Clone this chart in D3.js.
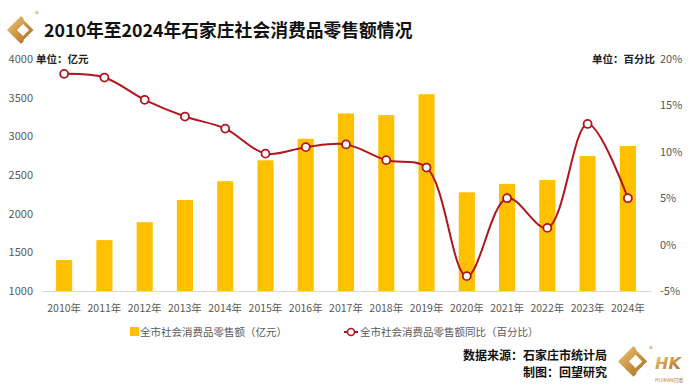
<!DOCTYPE html>
<html>
<head>
<meta charset="utf-8">
<script src="https://cdn.jsdelivr.net/npm/d3@7"></script>
<style>
  body { margin: 0; background: #fff; }
  svg { font-family: "Noto Sans CJK SC", "Noto Sans", sans-serif; }
</style>
</head>
<body>
<div id="chart"></div>
<script>
// data
var years = ["2010年", "2011年", "2012年", "2013年", "2014年", "2015年", "2016年", "2017年",
             "2018年", "2019年", "2020年", "2021年", "2022年", "2023年", "2024年"];
var sales = [1400, 1658, 1890, 2177, 2420, 2690, 2968, 3296, 3275, 3545, 2276, 2385, 2434, 2745, 2875];
var growth = [18.4, 18.0, 15.6, 13.8, 12.5, 9.8, 10.5, 10.8, 9.1, 8.3, -3.4, 5.0, 1.8, 13.0, 5.0];
var leftTicks = [1000, 1500, 2000, 2500, 3000, 3500, 4000];
var rightTicks = [-5, 0, 5, 10, 15, 20];

var svgWidth = 690;
var svgHeight = 389;
var barColor = "#ffc000";
var lineColor = "#b0161e";
var tickColor = "#595959";

var svg = d3.select("#chart")
    .append("svg")
    .attr("width", svgWidth)
    .attr("height", svgHeight);

var defs = svg.append("defs");
var gold = defs.append("linearGradient")
    .attr("id", "gold")
    .attr("x1", "0").attr("y1", "0").attr("x2", "1").attr("y2", "1");
gold.append("stop").attr("offset", "0%").attr("stop-color", "#ecc97f");
gold.append("stop").attr("offset", "55%").attr("stop-color", "#c8913e");
gold.append("stop").attr("offset", "100%").attr("stop-color", "#9c6a24");

// scales
var x = d3.scaleBand()
    .domain(years)
    .range([44, 648])
    .paddingInner(0.6)
    .paddingOuter(0.3);

var yLeft = d3.scaleLinear().domain([1000, 4000]).range([291, 59]);
var yRight = d3.scaleLinear().domain([-5, 20]).range([291, 59]);

// logo helper: gold diamond with a chevron cut
function drawLogo(g, s) {
    var lg = g.append("g").attr("transform", "scale(" + s + ")");
    lg.append("path")
        .attr("d", "M0,14 L14,0 L28,14 L14,28 Z")
        .attr("fill", "url(#gold)");
    lg.append("path")
        .attr("d", "M10,14 L16,8 L22,14 L16,20 Z")
        .attr("fill", "#fff");
    lg.append("path")
        .attr("d", "M17,3 L28,14 L17,25")
        .attr("fill", "none")
        .attr("stroke", "#fff")
        .attr("stroke-width", 2);
}

// title + logo
var logoTop = svg.append("g").attr("transform", "translate(7,16)");
drawLogo(logoTop, 1.0);
svg.append("text")
    .attr("x", 35).attr("y", 17)
    .attr("font-size", 8)
    .attr("fill", "#c8913e")
    .text("®");

svg.append("text")
    .attr("x", 44).attr("y", 37)
    .attr("font-size", 17.8)
    .attr("font-weight", "bold")
    .attr("fill", "#111")
    .text("2010年至2024年石家庄社会消费品零售额情况");

// baseline
svg.append("line")
    .attr("x1", 43).attr("x2", 652)
    .attr("y1", 291.5).attr("y2", 291.5)
    .attr("stroke", "#d9d9d9")
    .attr("stroke-width", 1);

// left axis labels
var leftAxis = svg.append("g")
    .attr("transform", "translate(33,0)")
    .call(d3.axisLeft(yLeft).tickValues(leftTicks).tickSize(0).tickPadding(0)
        .tickFormat(d3.format("d")));
leftAxis.select(".domain").remove();
leftAxis.selectAll("text")
    .attr("font-size", 11)
    .attr("fill", tickColor)
    .attr("font-family", "'Noto Sans CJK SC', sans-serif");

// right axis labels
var rightAxis = svg.append("g")
    .attr("transform", "translate(660,0)")
    .call(d3.axisRight(yRight).tickValues(rightTicks).tickSize(0).tickPadding(0)
        .tickFormat(d => d + "%"));
rightAxis.select(".domain").remove();
rightAxis.selectAll("text")
    .attr("font-size", 11)
    .attr("fill", tickColor)
    .attr("font-family", "'Noto Sans CJK SC', sans-serif");

// bottom axis labels
var bottomAxis = svg.append("g")
    .attr("transform", "translate(0,291)")
    .call(d3.axisBottom(x).tickSize(0).tickPadding(14));
bottomAxis.select(".domain").remove();
bottomAxis.selectAll("text")
    .attr("font-size", 10.5)
    .attr("fill", tickColor)
    .attr("font-family", "'Noto Sans CJK SC', sans-serif");

// unit labels
svg.append("text")
    .attr("x", 36).attr("y", 63)
    .attr("font-size", 10.5)
    .attr("font-weight", "bold")
    .attr("fill", "#222")
    .text("单位：亿元");
svg.append("text")
    .attr("x", 655).attr("y", 63)
    .attr("text-anchor", "end")
    .attr("font-size", 10.5)
    .attr("font-weight", "bold")
    .attr("fill", "#222")
    .text("单位：百分比");

// bars
svg.selectAll("rect.bar")
    .data(sales)
    .enter()
    .append("rect")
    .attr("class", "bar")
    .attr("x", (d, i) => x(years[i]))
    .attr("width", x.bandwidth())
    .attr("y", d => yLeft(d))
    .attr("height", d => yLeft(1000) - yLeft(d))
    .attr("fill", barColor);

// growth line
var line = d3.line()
    .x((d, i) => x(years[i]) + x.bandwidth() / 2)
    .y(d => yRight(d))
    .curve(d3.curveCatmullRom.alpha(0.5));

svg.append("path")
    .datum(growth)
    .attr("d", line)
    .attr("fill", "none")
    .attr("stroke", lineColor)
    .attr("stroke-width", 2);

svg.selectAll("circle.pt")
    .data(growth)
    .enter()
    .append("circle")
    .attr("class", "pt")
    .attr("cx", (d, i) => x(years[i]) + x.bandwidth() / 2)
    .attr("cy", d => yRight(d))
    .attr("r", 4)
    .attr("fill", "#fff")
    .attr("stroke", lineColor)
    .attr("stroke-width", 1.8);

// legend
var legend = svg.append("g");
legend.append("rect")
    .attr("x", 130).attr("y", 327)
    .attr("width", 9).attr("height", 9)
    .attr("fill", barColor);
legend.append("text")
    .attr("x", 140).attr("y", 336)
    .attr("font-size", 10.5)
    .attr("fill", tickColor)
    .text("全市社会消费品零售额（亿元）");
legend.append("line")
    .attr("x1", 344).attr("x2", 358)
    .attr("y1", 332).attr("y2", 332)
    .attr("stroke", lineColor)
    .attr("stroke-width", 2);
legend.append("circle")
    .attr("cx", 351).attr("cy", 332).attr("r", 3.5)
    .attr("fill", "#fff")
    .attr("stroke", lineColor)
    .attr("stroke-width", 1.6);
legend.append("text")
    .attr("x", 360).attr("y", 336)
    .attr("font-size", 10.5)
    .attr("fill", tickColor)
    .text("全市社会消费品零售额同比（百分比）");

// source
svg.append("text")
    .attr("x", 607).attr("y", 360)
    .attr("text-anchor", "end")
    .attr("font-size", 12)
    .attr("font-weight", "bold")
    .attr("fill", "#111")
    .text("数据来源：石家庄市统计局");
svg.append("text")
    .attr("x", 607).attr("y", 377)
    .attr("text-anchor", "end")
    .attr("font-size", 12)
    .attr("font-weight", "bold")
    .attr("fill", "#111")
    .text("制图：回望研究");

// bottom right logo
var logoBottom = svg.append("g").attr("transform", "translate(618,346)");
drawLogo(logoBottom, 1.1);
svg.append("text")
    .attr("x", 649).attr("y", 352)
    .attr("font-size", 8)
    .attr("fill", "#c8913e")
    .text("®");
svg.append("text")
    .attr("x", 655).attr("y", 369)
    .attr("font-size", 16)
    .attr("font-weight", "bold")
    .attr("font-style", "italic")
    .attr("fill", "url(#gold)")
    .attr("font-family", "'DejaVu Sans', sans-serif")
    .text("HK");
svg.append("text")
    .attr("x", 655).attr("y", 382)
    .attr("font-size", 5)
    .attr("fill", "#b8893a")
    .text("HUIKAN回看");
</script>
</body>
</html>
